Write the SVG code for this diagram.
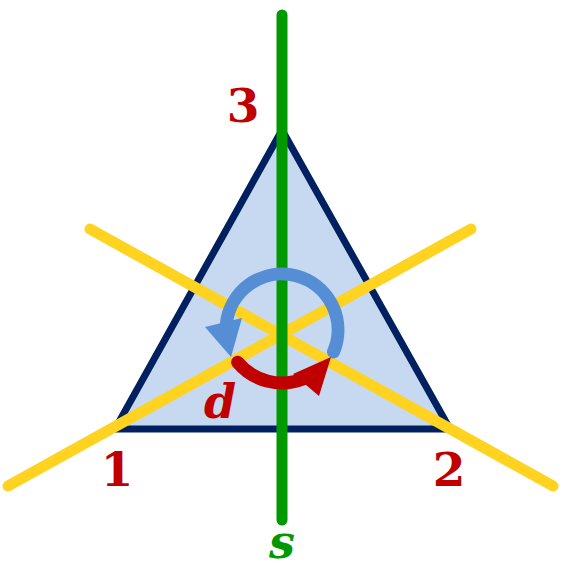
<svg xmlns="http://www.w3.org/2000/svg" width="563" height="570" viewBox="0 0 563 570">
<style>
.lbl{font-family:"DejaVu Serif","Liberation Serif",serif;font-weight:bold;text-anchor:middle}
.red{fill:#c00000}
.axis{fill:none;stroke-linecap:round}
</style>
<rect width="563" height="570" fill="#ffffff"/>
<g id="triangle">
<polygon points="282,130 115,429 450,429" fill="#c6d9f0" stroke="#002060" stroke-width="7" stroke-linejoin="miter"/>
</g>
<g id="connectors">
<line class="axis" x1="90" y1="229" x2="553" y2="486" stroke="#ffd320" stroke-width="11"/>
<line class="axis" x1="8" y1="486" x2="471" y2="229" stroke="#ffd320" stroke-width="11"/>
<line class="axis" x1="282" y1="15" x2="282" y2="520" stroke="#009900" stroke-width="11"/>
<g id="rot-blue">
<path class="axis" d="M333.5,351.9 A56,56 0 1 0 226.3,324.1" stroke="#558ed5" stroke-width="13"/>
<polygon points="205,327 242,318 231,357" fill="#558ed5"/>
</g>
<g id="rot-red">
<path class="axis" d="M237.6,362.3 A58,58 0 0 0 303.7,378.8" stroke="#c00000" stroke-width="13"/>
<polygon points="293,374 319,396 331,357" fill="#c00000"/>
</g>
</g>
<g id="label-3"><text class="lbl red" x="243" y="122" font-size="47">3</text></g>
<g id="label-1"><text class="lbl red" x="117" y="486" font-size="47">1</text></g>
<g id="label-2"><text class="lbl red" x="449" y="486" font-size="47">2</text></g>
<g id="label-d"><text class="lbl red" x="220" y="418" font-size="46" font-style="italic">d</text></g>
<g id="label-s"><text class="lbl" x="282" y="558" font-size="46" font-style="italic" fill="#009900">s</text></g>
</svg>
